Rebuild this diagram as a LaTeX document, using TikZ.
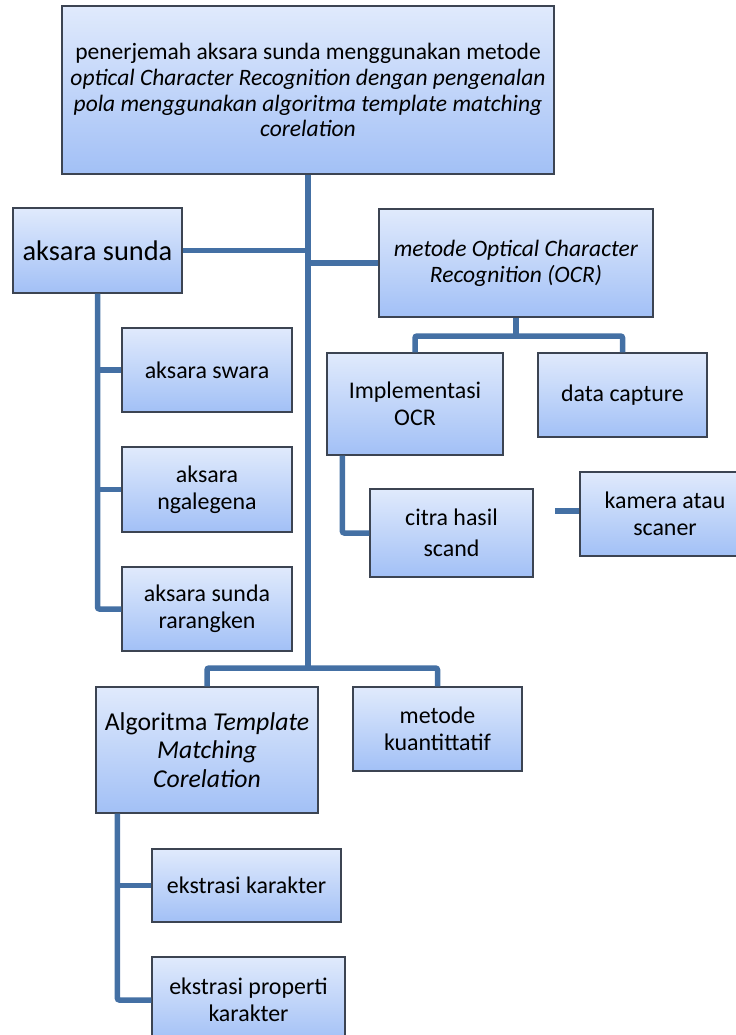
\documentclass[tikz,border=0pt]{standalone}
\usepackage{fontspec}
\setmainfont{Carlito}
\definecolor{boxtop}{RGB}{224,234,252}
\definecolor{boxbot}{RGB}{162,192,246}
\definecolor{boxline}{RGB}{60,68,82}
\definecolor{linkc}{RGB}{68,112,164}
\begin{document}
\begin{tikzpicture}[x=1bp,y=-1bp,
  box/.style={draw=boxline, line width=1.3bp, top color=boxtop, bottom color=boxbot,
              align=center, inner sep=0pt, font=\fontsize{24}{27}\selectfont},
  ftop/.style={font=\fontsize{23.6}{26}\selectfont},
  fbig/.style={font=\fontsize{28.5}{31}\selectfont},
  falgo/.style={font=\fontsize{25.8}{28.5}\selectfont},
  link/.style={draw=linkc, line width=5.5bp, rounded corners=2bp}]
\useasboundingbox (0,0) rectangle (736,1035);
\clip (0,0) rectangle (736,1035);
% nodes
\node[box, ftop, minimum width=492bp, minimum height=168bp] (top) at (308,90)
  {penerjemah aksara sunda menggunakan metode\\
   \textit{optical Character Recognition dengan pengenalan}\\
   \textit{pola menggunakan algoritma template matching}\\
   \textit{corelation}};
\node[box, fbig, minimum width=169bp, minimum height=85bp] (sunda) at (97.5,250.5) {aksara sunda};
\node[box, ftop, minimum width=274bp, minimum height=108bp] (ocr) at (516,263)
  {\textit{metode Optical Character}\\ \textit{Recognition (OCR)}};
\node[box, minimum width=170bp, minimum height=84bp] (swara) at (207,370) {aksara swara};
\node[box, minimum width=170bp, minimum height=85bp] (ngalegena) at (207,489.5) {aksara\\ ngalegena};
\node[box, minimum width=170bp, minimum height=84bp] (rarangken) at (207,609) {aksara sunda\\ rarangken};
\node[box, minimum width=176bp, minimum height=102bp] (impl) at (415,404) {Implementasi\\ OCR};
\node[box, minimum width=169bp, minimum height=84bp] (datacap) at (622.5,395) {data capture};
\node[box, font=\fontsize{24}{31}\selectfont, minimum width=163bp, minimum height=88bp] (citra) at (451.5,533) {citra hasil\\ scand};
\node[box, minimum width=170bp, minimum height=84bp] (kamera) at (665,514) {kamera atau\\ scaner};
\node[box, falgo, minimum width=222bp, minimum height=126bp] (algo) at (207,750)
  {Algoritma \textit{Template}\\ \textit{Matching}\\ \textit{Corelation}};
\node[box, minimum width=169bp, minimum height=84bp] (kuant) at (437.5,729) {metode\\ kuantittatif};
\node[box, minimum width=189bp, minimum height=73bp] (ekskar) at (246.5,885.5) {ekstrasi karakter};
\node[box, minimum width=193bp, minimum height=86bp] (eksprop) at (248.5,1000) {ekstrasi properti\\ karakter};
% junctions
\coordinate (j) at (308,668);
\coordinate (ocrj) at (516,336);
\coordinate (kfree) at (555,511);
% connectors
\draw[link] (top.south) -- (j);
\draw[link] (sunda.east) -- (sunda.east -| top.south);
\draw[link] (ocr.west) -- (ocr.west -| top.south);
\draw[link] (sunda.south) |- (rarangken.west);
\draw[link] (sunda.south |- swara.west) -- (swara.west);
\draw[link] (sunda.south |- ngalegena.west) -- (ngalegena.west);
\draw[link] (ocr.south) -- (ocrj);
\draw[link] (impl.north) |- (ocrj) -| (datacap.north);
\draw[link] ([xshift=16bp]impl.south west) |- (citra.west);
\draw[link] (kfree) -- (kfree -| kamera.west);
\draw[link] (algo.north) |- (j) -| (kuant.north);
\draw[link] ([xshift=22bp]algo.south west) |- (eksprop.west);
\draw[link] ([xshift=22bp]algo.south west |- ekskar.west) -- (ekskar.west);
\end{tikzpicture}
\end{document}
